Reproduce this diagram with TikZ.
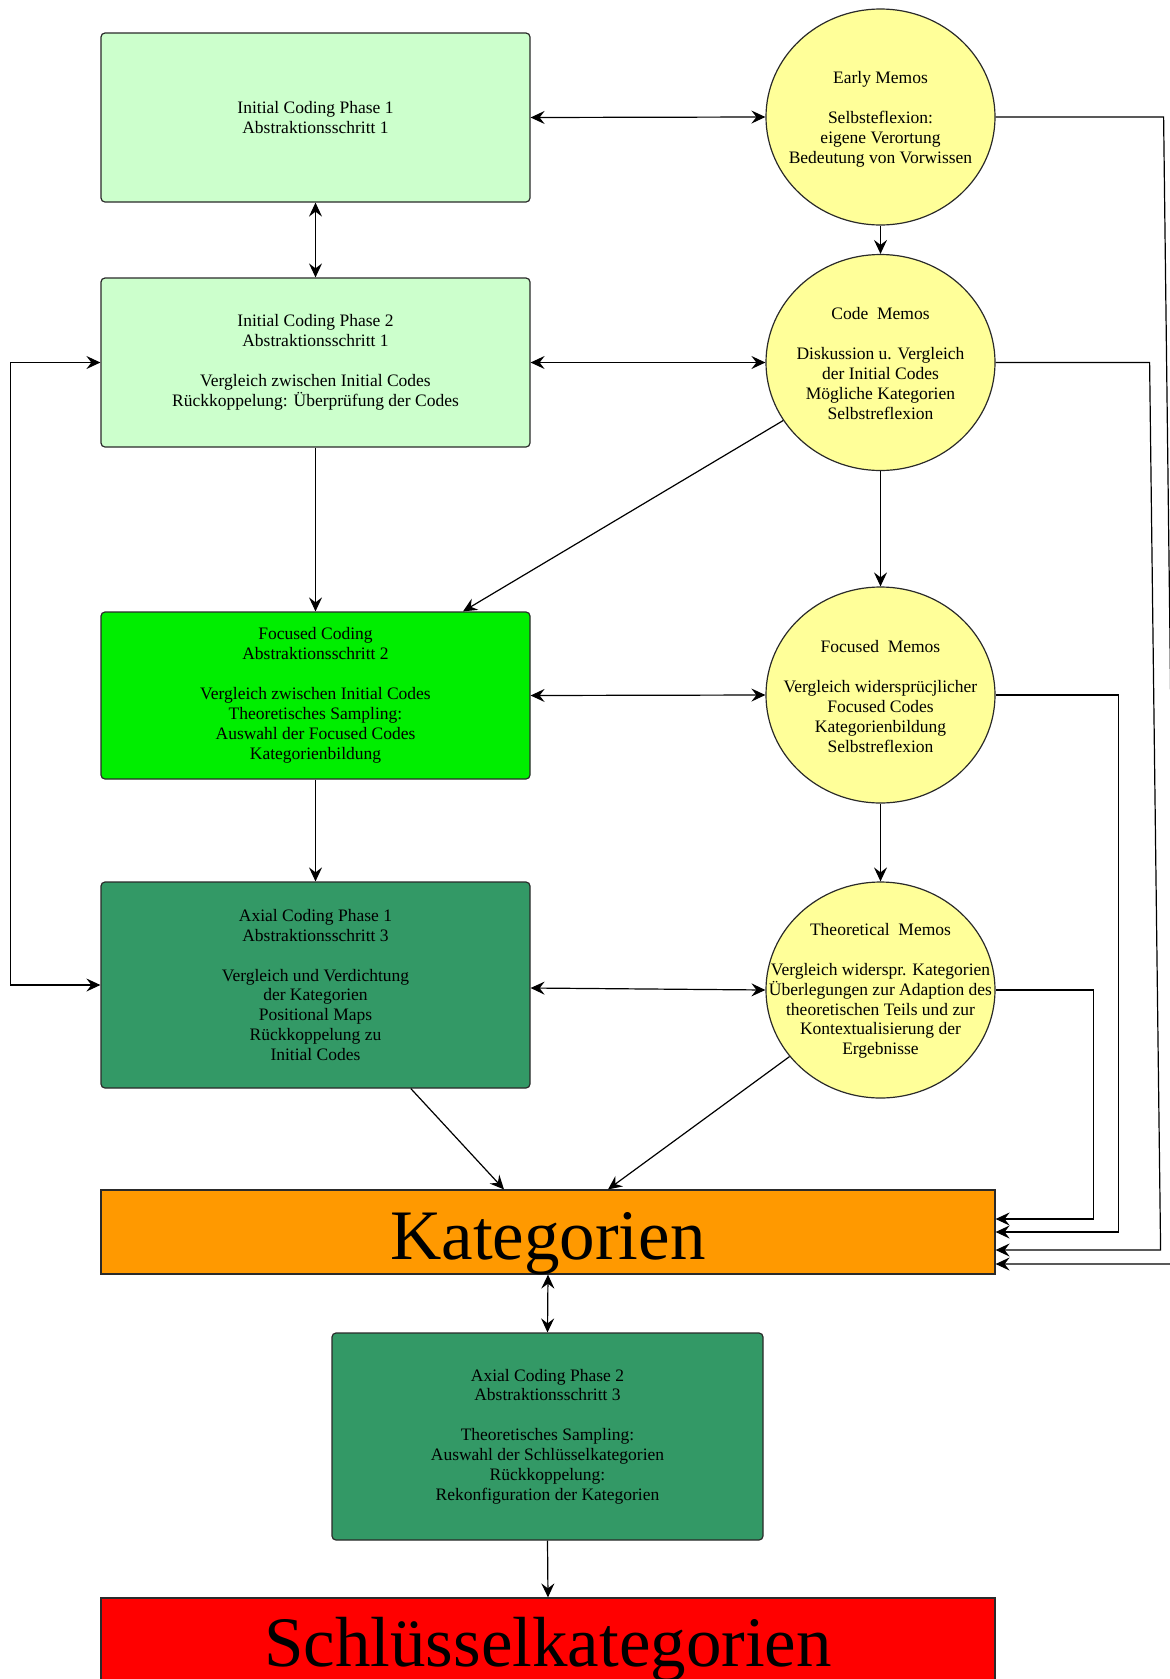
\documentclass[tikz,border=0pt]{standalone}
\usepackage{fontspec}
\setmainfont{Liberation Serif}
\usetikzlibrary{arrows.meta,shapes.geometric,calc}
\definecolor{lgreen}{HTML}{CCFFCC}
\definecolor{fgreen}{HTML}{00EE00}
\definecolor{agreen}{HTML}{339966}
\definecolor{korange}{HTML}{FF9900}
\definecolor{skred}{HTML}{FF0000}
\definecolor{memoyellow}{HTML}{FFFF99}
\definecolor{edge}{HTML}{2A2A2A}
\begin{document}
\begin{tikzpicture}[x=1pt,y=-1pt,
  txt/.style={font=\fontsize{17.5}{19.9}\selectfont, text=black, align=center, inner sep=0pt},
  box/.style={txt, draw=edge, line width=1.2pt, rounded corners=4pt, minimum width=429pt},
  bigbox/.style={draw=edge, line width=1.2pt, inner sep=0pt, minimum width=894pt, text=black, font=\fontsize{71}{80}\selectfont, text depth=0pt},
  memo/.style={ellipse, draw=edge, line width=1.2pt, fill=memoyellow, minimum width=229pt, minimum height=216pt, inner sep=0pt},
  tip/.tip={Stealth[length=14pt,width=13pt,inset=5pt]},
  conn/.style={line width=1.2pt, draw=black, -tip},
  biconn/.style={line width=1.2pt, draw=black, tip-tip},
]
\useasboundingbox (0,0) rectangle (1170,1679);

% coding boxes
\node[box, fill=lgreen, minimum height=169pt] (box1) at (315.5,117.5)
  {Initial Coding Phase 1\\Abstraktionsschritt 1};
\node[box, fill=lgreen, minimum height=169pt] (box2) at (315.5,362.5)
  {Initial Coding Phase 2\\Abstraktionsschritt 1\\[19.9pt]Vergleich zwischen Initial Codes\\R\"uckkoppelung: \"Uberpr\"ufung der Codes};
\node[box, fill=fgreen, minimum height=167pt] (focbox) at (315.5,695.5)
  {Focused Coding\\Abstraktionsschritt 2\\[19.9pt]Vergleich zwischen Initial Codes\\Theoretisches Sampling:\\Auswahl der Focused Codes\\Kategorienbildung};
\node[box, fill=agreen, minimum height=206pt] (ax1) at (315.5,985)
  {Axial Coding Phase 1\\Abstraktionsschritt 3\\[19.9pt]Vergleich und Verdichtung\\der Kategorien\\Positional Maps\\R\"uckkoppelung zu\\Initial Codes};
\node[box, fill=agreen, minimum width=431pt, minimum height=207pt] (ax2) at (547.5,1436.5)
  {Axial Coding Phase 2\\Abstraktionsschritt 3\\[19.9pt]Theoretisches Sampling:\\Auswahl der Schl\"usselkategorien\\R\"uckkoppelung:\\Rekonfiguration der Kategorien};

\node[bigbox, fill=korange, minimum height=84pt, text height=54pt] (kat) at (548,1232) {Kategorien};
\node[bigbox, fill=skred, minimum height=102pt, text height=34pt] (sk) at (548,1649) {Schl\"usselkategorien};

% memos
\node[memo] (early) at (880.5,117) {};
\node[txt] (earlyT) at ([yshift=-2.5pt]early.center) {Early Memos\\[19.9pt]Selbsteflexion:\\eigene Verortung\\Bedeutung von Vorwissen};
\node[memo] (code) at (880.5,362.5) {};
\node[txt] (codeT) at ([yshift=-1pt]code.center) {Code~~Memos\\[19.9pt]Diskussion u. Vergleich\\der Initial Codes\\M\"ogliche Kategorien\\Selbstreflexion};
\node[memo] (focm) at (880.5,695) {};
\node[txt] (focmT) at ([yshift=-1.5pt]focm.center) {Focused~~Memos\\[19.9pt]Vergleich widerspr\"ucjlicher\\Focused Codes\\Kategorienbildung\\Selbstreflexion};
\node[memo] (theo) at (880.5,990) {};
\node[txt] (theoT) at ([yshift=-1pt]theo.center) {Theoretical~~Memos\\[19.9pt]Vergleich widerspr. Kategorien\\\"Uberlegungen zur Adaption des\\theoretischen Teils und zur\\Kontextualisierung der\\Ergebnisse};

% helper coordinates
\coordinate (focIn) at ([xshift=147.5pt]focbox.north);
\coordinate (katA) at ([xshift=-44pt]kat.north);
\coordinate (katB) at ([xshift=60pt]kat.north);

% connectors
\draw[biconn] (box1.east) -- (early.west);
\draw[biconn] (box1.south) -- (box2.north);
\draw[conn] (early.south) -- (code.north);
\draw[biconn] (box2.east) -- (code.west);
\draw[biconn] (box2.west) -- ++(-90,0) |- (ax1.west);
\draw[conn] (box2.south) -- (focbox.north);
\draw[conn] (code) -- (focIn);
\draw[conn] (code.south) -- (focm.north);
\draw[biconn] (focbox.east) -- (focm.west);
\draw[conn] (focbox.south) -- (ax1.north);
\draw[conn] (focm.south) -- (theo.north);
\draw[biconn] ([yshift=-3pt]ax1.east) -- (theo.west);
\draw[conn] (ax1) -- (katA);
\draw[conn] (theo) -- (katB);
\draw[biconn] (kat.south) -- (ax2.north);
\draw[conn] (ax2.south) -- (sk.north);

% feedback lines on the right
\draw[conn] (theo.east) -- ++(98,0) |- ([yshift=13pt]kat.east);
\draw[conn] (focm.east) -- ++(123,0) |- (kat.east);
\draw[conn] (code.east) -- ++(154,0) -- ++(11,887.5) -- ([yshift=-18pt]kat.east);
\draw[conn] (early.east) -- ++(168,0) -- ++(14,1147) -- ([yshift=-32pt]kat.east);
\end{tikzpicture}
\end{document}
